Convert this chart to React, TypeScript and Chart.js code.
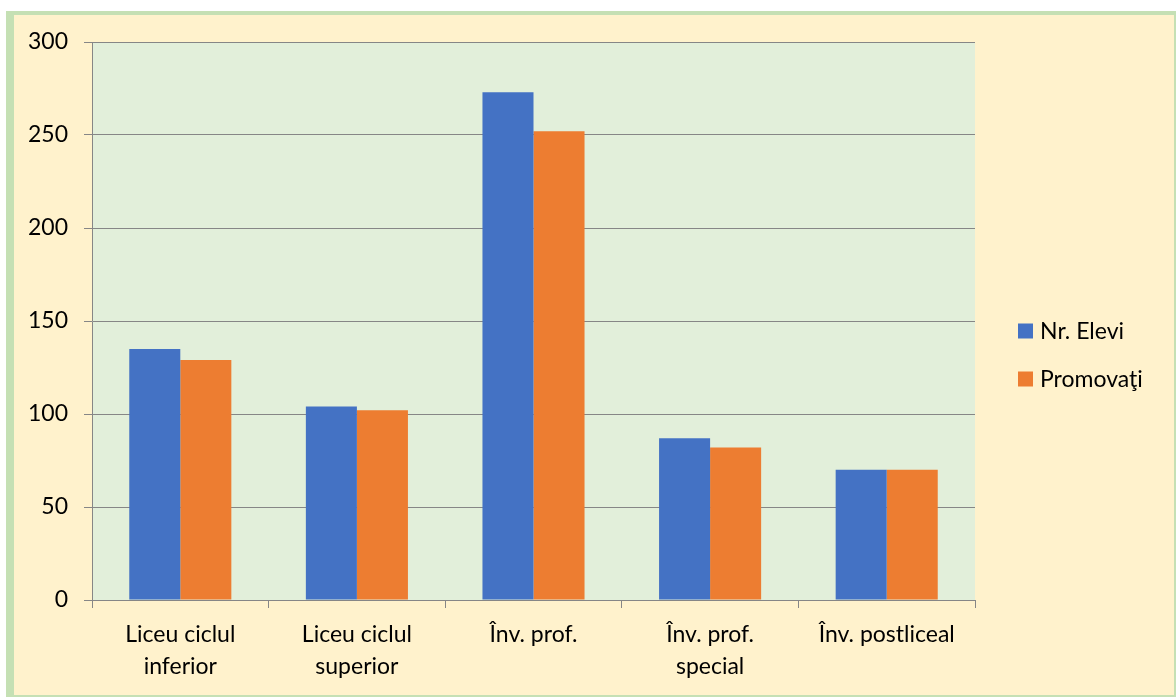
import React, { useEffect, useRef } from "react";
import { Chart, registerables } from "chart.js";

Chart.register(...registerables);

const categories: (string | string[])[] = [
  ["Liceu ciclul", "inferior"],
  ["Liceu ciclul", "superior"],
  ["Înv. prof."],
  ["Înv. prof.", "special"],
  ["Înv. postliceal"],
];
const seriesNames = ["Nr. Elevi", "Promovaţi"];
const nrElevi = [135, 104, 273, 87, 70];
const promovati = [129, 102, 252, 82, 70];
const yTicks = [0, 50, 100, 150, 200, 250, 300];

const BLUE = "#4472C4";
const ORANGE = "#ED7D31";
const FONT = "Lato, 'Open Sans', sans-serif";

const plotBg = {
  id: "plotBg",
  beforeDraw(chart: any) {
    const { ctx, chartArea } = chart;
    ctx.save();
    ctx.fillStyle = "#E2EFDA";
    ctx.fillRect(chartArea.left, chartArea.top, chartArea.right - chartArea.left, chartArea.bottom - chartArea.top);
    ctx.restore();
  },
};

const sideLegend = {
  id: "sideLegend",
  afterDraw(chart: any) {
    const { ctx } = chart;
    const x = chart.chartArea.right + 43;
    const ys = [316, 364];
    ctx.save();
    ctx.font = `23px ${FONT}`;
    ctx.textBaseline = "middle";
    ctx.textAlign = "left";
    chart.data.datasets.forEach((ds: any, i: number) => {
      const cy = ys[i];
      ctx.fillStyle = ds.backgroundColor;
      ctx.fillRect(x, cy - 7.5, 15, 15);
      ctx.fillStyle = "#000";
      ctx.fillText(ds.label, x + 22, cy + 1);
    });
    ctx.restore();
  },
};

export default function App() {
  const ref = useRef<HTMLCanvasElement | null>(null);
  useEffect(() => {
    if (!ref.current) return;
    const chart = new Chart(ref.current, {
      type: "bar",
      data: {
        labels: categories,
        datasets: [
          { label: seriesNames[0], data: nrElevi, backgroundColor: BLUE, categoryPercentage: 0.578, barPercentage: 1 },
          { label: seriesNames[1], data: promovati, backgroundColor: ORANGE, categoryPercentage: 0.578, barPercentage: 1 },
        ],
      },
      options: {
        animation: false,
        responsive: false,
        maintainAspectRatio: false,
        layout: { padding: { left: 0, top: 27, right: 199, bottom: 0 } },
        plugins: { legend: { display: false }, tooltip: { enabled: false } },
        scales: {
          x: {
            grid: { offset: true, drawOnChartArea: false, drawTicks: true, tickLength: 8, color: "#868686" },
            border: { display: true, color: "#868686" },
            ticks: { color: "#000", font: { family: FONT, size: 23, lineHeight: 1.4 }, padding: 10, maxRotation: 0, autoSkip: false },
            afterFit(scale: any) { scale.height = 95; },
          },
          y: {
            min: 0,
            max: 300,
            afterBuildTicks(scale: any) { scale.ticks = yTicks.map((v) => ({ value: v })); },
            grid: { color: "#868686", drawTicks: true, tickLength: 8 },
            border: { display: true, color: "#868686" },
            ticks: { color: "#000", font: { family: FONT, size: 23 }, padding: 16 },
            afterFit(scale: any) { scale.width = 78; scale.paddingTop = 0; },
          },
        },
      },
      plugins: [plotBg, sideLegend],
    });
    return () => chart.destroy();
  }, []);
  return (
    <div
      style={{
        position: "fixed",
        left: 6,
        top: 11,
        width: 1160,
        height: 680,
        background: "#FFF2CC",
        borderLeft: "8px solid #C5E0B4",
        borderTop: "4px solid #C5E0B4",
        borderRight: "2px solid #C5E0B4",
        borderBottom: "2px solid #C5E0B4",
      }}
    >
      <canvas ref={ref} width={1160} height={680} style={{ display: "block" }} />
    </div>
  );
}
